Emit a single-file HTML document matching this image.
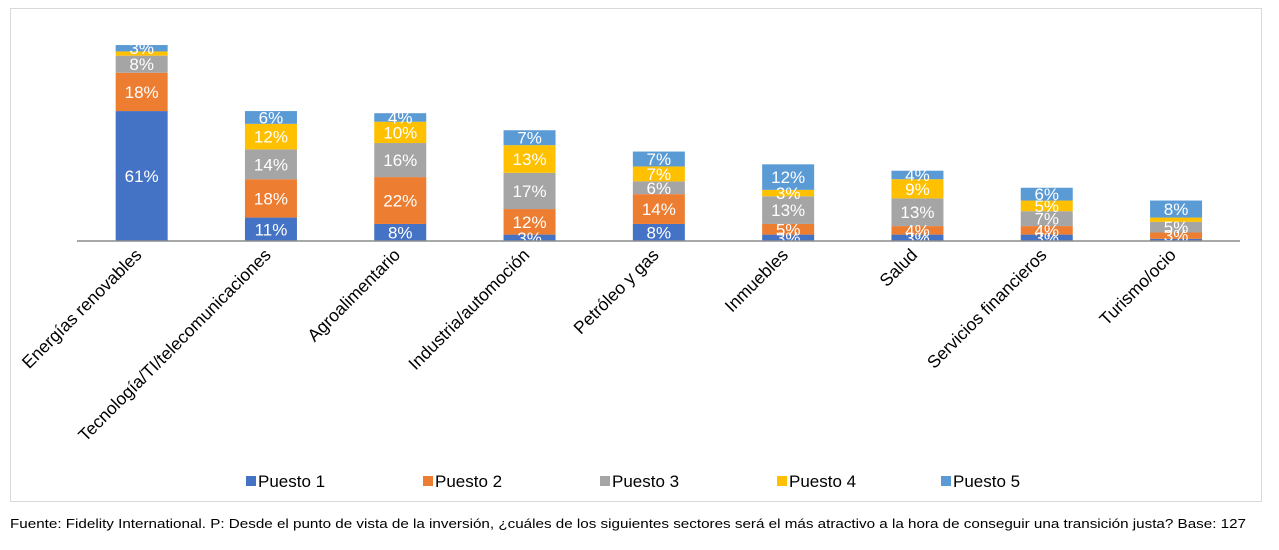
<!DOCTYPE html>
<html><head><meta charset="utf-8"><style>
body{margin:0;background:#fff;width:1279px;height:545px;overflow:hidden;font-family:"Liberation Sans",Arial,sans-serif}
</style></head><body>
<svg id="chart" width="1279" height="545" xmlns="http://www.w3.org/2000/svg">
<rect x="10.5" y="8.5" width="1251" height="493" fill="#fff" stroke="#d9d9d9"/>
<g id="bars"></g>
<line x1="77" y1="241" x2="1240" y2="241" stroke="#8c8c8c" stroke-width="1.5"/>
<g id="cats"></g>
<g id="legend"></g>
<text x="10" y="528" font-size="13" fill="#000" textLength="1236" lengthAdjust="spacingAndGlyphs">Fuente: Fidelity International. P: Desde el punto de vista de la inversión, ¿cuáles de los siguientes sectores será el más atractivo a la hora de conseguir una transición justa? Base: 127</text>
</svg>
<script>
const categories=["Energías renovables","Tecnología/TI/telecomunicaciones","Agroalimentario","Industria/automoción","Petróleo y gas","Inmuebles","Salud","Servicios financieros","Turismo/ocio"];
const seriesNames=["Puesto 1","Puesto 2","Puesto 3","Puesto 4","Puesto 5"];
const puesto1=[61,11,8,3,8,3,3,3,1];
const puesto2=[18,18,22,12,14,5,4,4,3];
const puesto3=[8,14,16,17,6,13,13,7,5];
const puesto4=[2,12,10,13,7,3,9,5,2];
const puesto5=[3,6,4,7,7,12,4,6,8];
const colors=["#4472c4","#ed7d31","#a5a5a5","#ffc000","#5b9bd5"];
const series=[puesto1,puesto2,puesto3,puesto4,puesto5];
const NS="http://www.w3.org/2000/svg";
const baseY=241, pxPer=2.13, x0=77, step=129.3, bw=52;
const xc=i=>x0+step*(i+0.5);
const y=v=>baseY-v*pxPer;
const bars=document.getElementById('bars');
categories.forEach((c,i)=>{
  let acc=0;
  series.forEach((s,k)=>{
    const v=s[i];
    const r=document.createElementNS(NS,'rect');
    r.setAttribute('x',xc(i)-bw/2);r.setAttribute('y',y(acc+v));
    r.setAttribute('width',bw);r.setAttribute('height',v*pxPer);
    r.setAttribute('fill',colors[k]);
    
    
    bars.appendChild(r);
    acc+=v;
  });
  acc=0;
  series.forEach((s,k)=>{
    const v=s[i];
    if(v>=3){
      const t=document.createElementNS(NS,'text');
      t.setAttribute('x',xc(i));t.setAttribute('y',y(acc+v/2)+6);
      t.setAttribute('text-anchor','middle');t.setAttribute('font-size','17');t.setAttribute('fill','#fff');
      t.textContent=v+'%';
      
      
      bars.appendChild(t);
    }
    acc+=v;
  });
  const ct=document.createElementNS(NS,'text');
  const tx=xc(i)+1, ty=256;
  ct.setAttribute('x',tx);ct.setAttribute('y',ty);
  ct.setAttribute('text-anchor','end');ct.setAttribute('font-size','17.5');ct.setAttribute('fill','#000');
  ct.setAttribute('transform','rotate(-45 '+tx+' '+ty+')');
  ct.textContent=c;
  
  
  document.getElementById('cats').appendChild(ct);
});
const lx=[246,423,600,777,941];
const lg=document.getElementById('legend');
seriesNames.forEach((n,k)=>{
  const g=document.createElementNS(NS,'g');
  
  
  const r=document.createElementNS(NS,'rect');
  r.setAttribute('x',lx[k]);r.setAttribute('y',476);r.setAttribute('width',10);r.setAttribute('height',10);r.setAttribute('fill',colors[k]);
  const t=document.createElementNS(NS,'text');
  t.setAttribute('x',lx[k]+12);t.setAttribute('y',487);t.setAttribute('font-size','17');
  t.textContent=n;
  g.appendChild(r);g.appendChild(t);lg.appendChild(g);
});
</script>
</body></html>
